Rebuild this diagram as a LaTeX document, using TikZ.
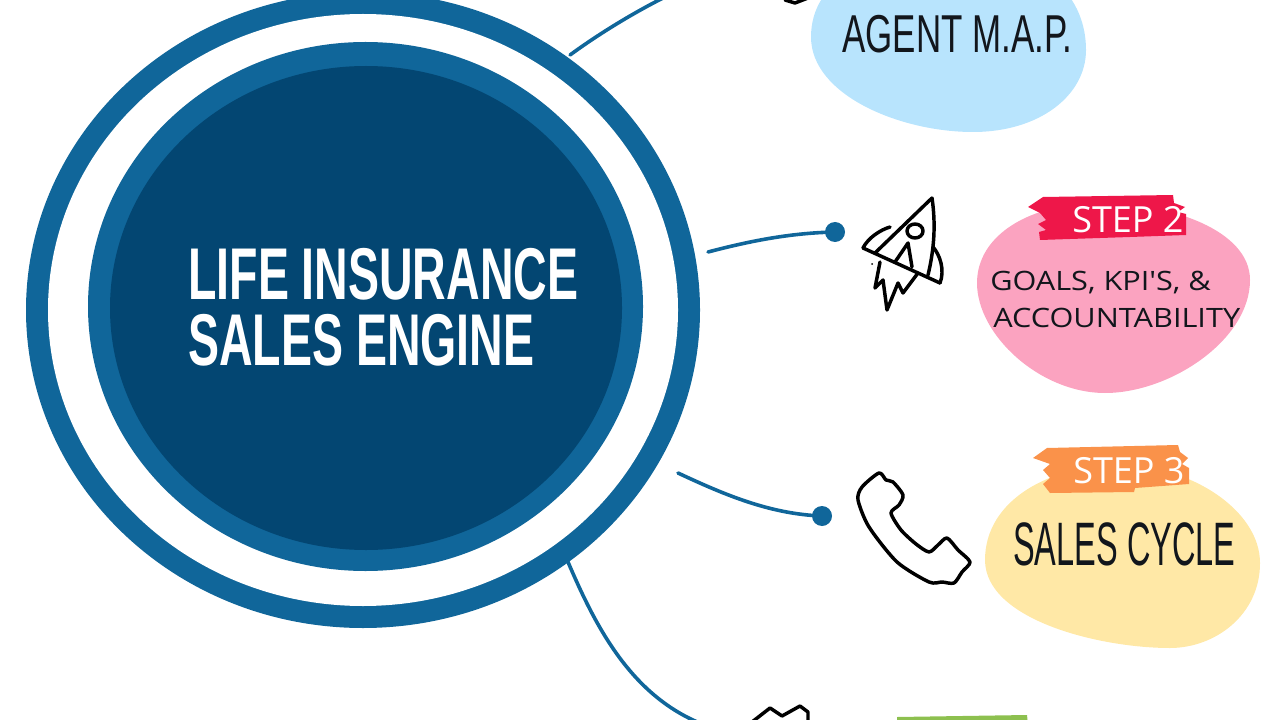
\documentclass[tikz,border=0pt]{standalone}
\usepackage{fontspec}
\usepackage{xcolor}
\setmainfont{Liberation Sans}
\newfontfamily\narrowfont[FakeStretch=0.655]{Liberation Sans}
\newfontfamily\cyclefont[FakeStretch=0.53]{Liberation Sans}
\newfontfamily\titlefont[FakeStretch=0.634]{Liberation Sans}
\newfontfamily\stepfont[FakeStretch=1.0]{Open Sans}
\newfontfamily\handfont[FakeStretch=1.15]{Open Sans}
\usetikzlibrary{positioning}
\definecolor{ringblue}{HTML}{10669A}
\definecolor{coreblue}{HTML}{034672}
\definecolor{blobblue}{HTML}{B8E4FD}
\definecolor{blobpink}{HTML}{FBA3C0}
\definecolor{blobyellow}{HTML}{FFE8A6}
\definecolor{brushred}{HTML}{EE1749}
\definecolor{brushorange}{HTML}{FA924A}
\definecolor{brushgreen}{HTML}{8DC04F}
\definecolor{inkdark}{HTML}{12161C}
\tikzset{
	% connector from the ring
	linkline/.style={draw=ringblue, line width=2.7pt, line cap=round},
	linkdot/.style={circle, fill=ringblue, inner sep=0pt, minimum size=15pt},
	% hand drawn icons
	sketch/.style={draw=black, line width=2.6pt, line join=round, line cap=round},
	% texts
	titletext/.style={inner sep=0pt, text=white, align=left, font=\titlefont\bfseries\fontsize{55}{49.5}\selectfont},
	steptext/.style={inner sep=0pt, anchor=base west, text=white, font=\stepfont\fontsize{27}{27}\selectfont},
	bigtext/.style={inner sep=0pt, anchor=base west, text=inkdark},
	handtext/.style={inner sep=0pt, anchor=base west, text=inkdark, font=\handfont\fontsize{20}{20}\selectfont}
}

\begin{document}
\begin{tikzpicture}[x=0.75pt, y=-0.75pt]
	\useasboundingbox (0,0) rectangle (1280,720);
	\clip (0,0) rectangle (1280,720);

	%% Rings
	\fill [ringblue] (363,310) ellipse [x radius=337, y radius=318];
	\fill [white] (363,310) ellipse [x radius=315, y radius=296];
	\fill [ringblue] (365.5,306.5) ellipse [x radius=277.5, y radius=264.5];
	\fill [coreblue] (366,308) ellipse [x radius=256, y radius=242];
	\node [titletext, anchor=west] (title) at (188,307) {LIFE INSURANCE\\SALES ENGINE};

	%% Blobs
	\fill [blobblue] (811,37) .. controls (811,95) and (900,132) .. (973,132) .. controls (1040,132) and (1086,95) .. (1086,50) .. controls (1086,0) and (1050,-50) .. (950,-50) .. controls (870,-50) and (811,-20) .. (811,37) -- cycle;
	\fill [blobpink] (977,283) .. controls (977,235) and (1030,203) .. (1100,203) .. controls (1170,203) and (1250,230) .. (1250,280) .. controls (1250,340) and (1170,393) .. (1105,393) .. controls (1040,393) and (977,335) .. (977,283) -- cycle;
	\fill [blobyellow] (985,560) .. controls (985,500) and (1050,465) .. (1120,465) .. controls (1190,465) and (1260,510) .. (1260,563) .. controls (1260,615) and (1215,648) .. (1170,648) .. controls (1100,648) and (985,620) .. (985,560) -- cycle;

	%% Brush strokes
	\fill [brushred] (1043,197) -- (1173,195) -- (1174,203) -- (1185,207) -- (1178,212) -- (1186,214) -- (1186,235) -- (1130,237) -- (1040,240) -- (1039,232) -- (1046,230) -- (1038,224) -- (1046,220) -- (1040,213) -- (1028,207) -- cycle;
	\fill [brushorange] (1047,448) -- (1178,445) -- (1180,452) -- (1188,458) -- (1182,464) -- (1189,468) -- (1189,484) -- (1135,488) -- (1134,492) -- (1050,493) -- (1043,484) -- (1050,478) -- (1043,470) -- (1050,464) -- (1033,458) -- cycle;
	\fill [brushgreen] (897,717) -- (1027,715) -- (1028,725) -- (897,725) -- cycle;

	%% Texts
	\node [bigtext, font=\narrowfont\fontsize{40}{40}\selectfont] (agent) at (842,53) {AGENT M.A.P.};
	\node [steptext] (stepB) at (1072,233) {STEP 2};
	\node [handtext] (goals) at (990,290) {GOALS, KPI'S, \&};
	\node [handtext] (account) at (993,327) {ACCOUNTABILITY};
	\node [steptext] (stepC) at (1073,483) {STEP 3};
	\node [bigtext, font=\cyclefont\fontsize{46}{46}\selectfont] (cycle) at (1013,565) {SALES CYCLE};

	%% Connectors
	\coordinate (ringA) at (570,55);
	\coordinate (endA) at (665,-3);
	\coordinate (ringB) at (708,252);
	\coordinate (ringC) at (678,473);
	\coordinate (ringD) at (568,562);
	\coordinate (endD) at (702,724);
	\node [linkdot] (dotB) at (835,232) {};
	\node [linkdot] (dotC) at (822,516) {};
	\draw [linkline] (ringA) .. controls (600,33) and (635,12) .. (endA);
	\draw [linkline] (ringB) .. controls (750,241) and (790,233) .. (dotB.center);
	\draw [linkline] (ringC) .. controls (725,495) and (770,514) .. (dotC.center);
	\draw [linkline] (ringD) .. controls (595,625) and (630,695) .. (endD);

	%% Rocket
	\draw [sketch] (932,198) -- (875,253) (863,248) -- (940,283);
	\draw [sketch] (932,198) .. controls (936,225) and (934,250) .. (928,275);
	\draw [sketch] (863,248) .. controls (868,238) and (880,230) .. (890,227);
	\draw [sketch] (933,247) .. controls (940,255) and (945,270) .. (940,283);
	\draw [sketch] (915,231) ellipse [x radius=8, y radius=7];
	\draw [sketch] (895,262) -- (908,243) -- (912,267);
	\draw [sketch] (880,262) -- (875,288) -- (883,280) -- (887,310) -- (898,283) -- (903,293) -- (918,273);
	\fill (872,264) circle [radius=1];

	%% Phone
	\draw [sketch] plot [smooth cycle, tension=0.45] coordinates {(879,473) (886,480) (893,482) (903,495) (899,505) (891,513) (901,530) (916,544) (929,552) (938,545) (947,538) (958,550) (970,562) (962,572) (954,583) (942,582) (929,582) (897,562) (869,527) (858,500) (862,487)};

	%% Cut off icons
	\draw [sketch] (752,722) -- (770,708) -- (782,716) -- (800,706) -- (808,712) -- (808,724);
	\draw [sketch] (785,0) -- (795,3) -- (808,-2);
\end{tikzpicture}
\end{document}
